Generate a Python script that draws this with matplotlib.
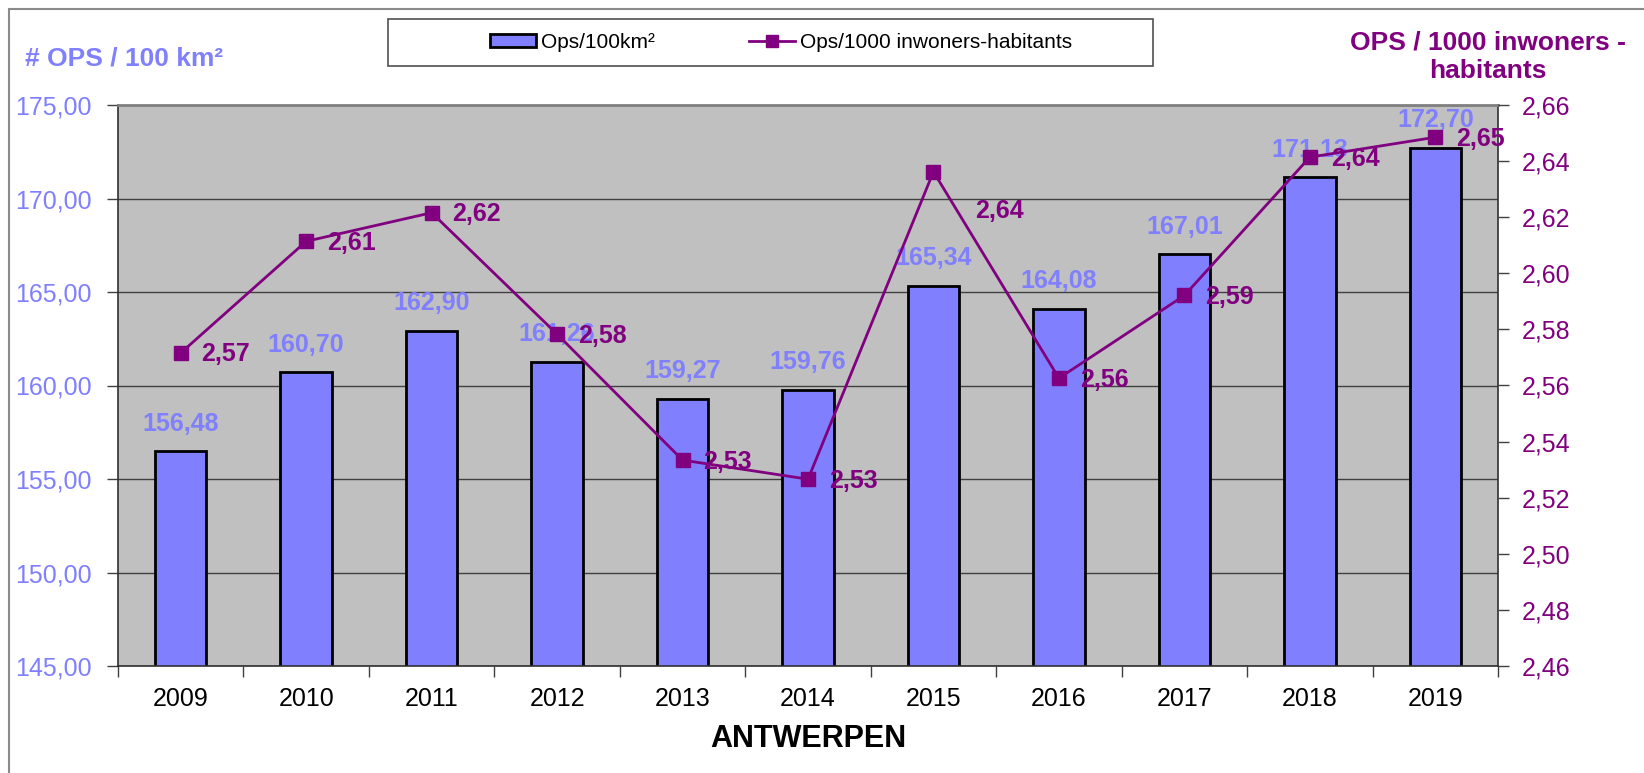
import matplotlib.pyplot as plt
from matplotlib.patches import Rectangle, Patch
from matplotlib.lines import Line2D
from matplotlib.ticker import FuncFormatter, MultipleLocator, FixedLocator

plt.rcParams['font.family'] = ['Liberation Sans', 'DejaVu Sans']

years = ['2009', '2010', '2011', '2012', '2013', '2014', '2015', '2016', '2017', '2018', '2019']
ops_per_100km2 = [156.48, 160.70, 162.90, 161.26, 159.27, 159.76, 165.34, 164.08, 167.01, 171.13, 172.70]
ops_per_1000 = [2.5716, 2.6114, 2.6216, 2.5783, 2.5334, 2.5266, 2.6362, 2.5626, 2.5921, 2.6414, 2.6485]

bar_color = '#8080FF'
line_color = '#800080'


def comma(v, _=None):
    return f"{v:.2f}".replace('.', ',')


W, H = 1644, 773
fig = plt.figure(figsize=(W / 100, H / 100), dpi=100)

# outer chart frame (only left and top visible in the picture)
fig.patches.append(Rectangle((9 / W, -0.2), 1.2, 1.2 - 9 / H, transform=fig.transFigure,
                             fill=False, edgecolor='#8a8a8a', lw=1.5))

ax = fig.add_axes([118 / W, 1 - 666 / H, 1380 / W, 561 / H])
ax.set_facecolor('#C0C0C0')
x = list(range(len(years)))

ax.bar(x, ops_per_100km2, width=0.41, color=bar_color, edgecolor='black', linewidth=2, zorder=2)
ax.set_xlim(-0.5, len(years) - 0.5)
ax.set_ylim(145, 175)
ax.yaxis.set_major_locator(MultipleLocator(5))
ax.yaxis.set_major_formatter(FuncFormatter(comma))
ax.yaxis.grid(True, color='#404040', lw=1)
ax.set_axisbelow(True)
ax.tick_params(axis='y', colors='#404040', labelcolor=bar_color, labelsize=18, length=8, width=1, pad=11)

ax.set_xticks(x)
ax.set_xticklabels(years)
ax.xaxis.set_minor_locator(FixedLocator([i - 0.5 for i in range(len(years) + 1)]))
ax.tick_params(axis='x', which='major', length=0, labelsize=18, pad=15)
ax.tick_params(axis='x', which='minor', length=8, width=1, color='#404040')

for sp in ['left', 'bottom', 'right']:
    ax.spines[sp].set_color('#303030')
    ax.spines[sp].set_linewidth(1.2)
ax.spines['top'].set_color('#808080')
ax.spines['top'].set_linewidth(2)

for xi, v in zip(x, ops_per_100km2):
    ax.annotate(comma(v), (xi, v), xytext=(0, 20), textcoords='offset points',
                ha='center', va='center', color=bar_color, fontsize=18, fontweight='bold', zorder=3)

ax2 = ax.twinx()
ax2.plot(x, ops_per_1000, color=line_color, lw=2, marker='s', markersize=10)
ax2.set_ylim(2.46, 2.66)
ax2.yaxis.set_major_locator(MultipleLocator(0.02))
ax2.yaxis.set_major_formatter(FuncFormatter(comma))
ax2.tick_params(axis='y', colors='#404040', labelcolor=line_color, labelsize=18, length=8, width=1, pad=9)
for sp in ax2.spines.values():
    sp.set_visible(False)

label_offsets = {6: (30, -28)}
for i, (xi, v) in enumerate(zip(x, ops_per_1000)):
    dx, dy = label_offsets.get(i, (15, -1))
    ax2.annotate(comma(v), (xi, v), xytext=(dx, dy), textcoords='offset points',
                 ha='left', va='center', color=line_color, fontsize=18, fontweight='bold')

# axis titles
fig.text(124 / W, 1 - 58 / H, '# OPS / 100 km²', color=bar_color, fontsize=19,
         fontweight='bold', ha='center', va='center')
fig.text(1488 / W, 1 - 57 / H, 'OPS / 1000 inwoners -\nhabitants', color=line_color, fontsize=19,
         fontweight='bold', ha='center', va='center', linespacing=1.25)
fig.text(808 / W, 1 - 739 / H, 'ANTWERPEN', fontsize=22, fontweight='bold', ha='center', va='center')

# legend box
fig.patches.append(Rectangle((388 / W, 1 - 66 / H), 765 / W, 47 / H, transform=fig.transFigure,
                             facecolor='white', edgecolor='#505050', lw=1.2))
handles = [Patch(facecolor=bar_color, edgecolor='black', linewidth=2),
           Line2D([0], [0], color=line_color, lw=2, marker='s', markersize=8)]
fig.legend(handles, ['Ops/100km²', 'Ops/1000 inwoners-habitants'], loc='center',
           bbox_to_anchor=(781 / W, 1 - 42 / H), ncol=2, frameon=False, fontsize=15,
           handlelength=2.2, handletextpad=0.25, columnspacing=4.5, handleheight=0.6)

fig.savefig('out.png', dpi=100)
